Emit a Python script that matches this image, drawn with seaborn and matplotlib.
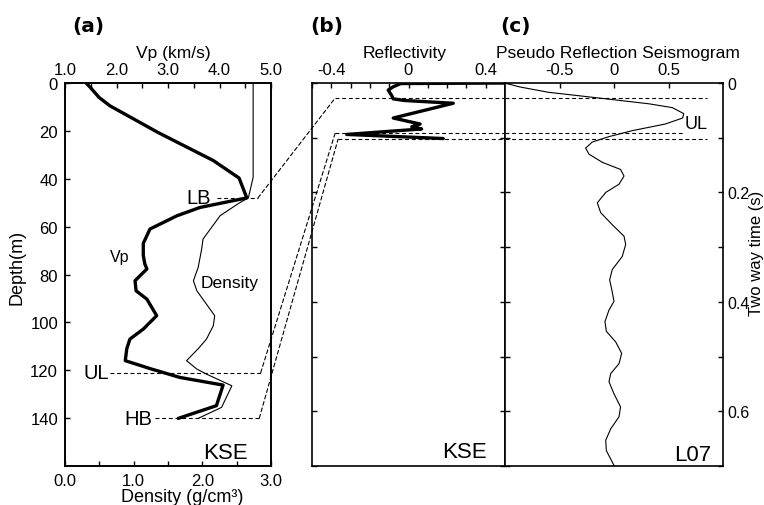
import matplotlib
matplotlib.use("Agg")
import matplotlib.pyplot as plt
import seaborn as sns
import numpy as np
from matplotlib.patches import ConnectionPatch
from matplotlib.ticker import FixedLocator, MultipleLocator, FixedFormatter

# ---------------- data ----------------
# Panel (a): velocity / density profile vs depth (m)
depth_vp = [0, 1.8, 6, 9.5, 20.6, 32.4, 39.7, 48, 52, 55.5, 61, 67, 72, 75.6, 77.7,
            82.6, 86.8, 90.3, 97.2, 102.8, 107, 111, 116, 119.5, 123, 126.2, 134.8, 140.1]
vp = [1.41, 1.49, 1.66, 1.87, 2.80, 3.88, 4.38, 4.53, 3.62, 3.17, 2.65, 2.52, 2.52, 2.55, 2.59,
      2.36, 2.38, 2.59, 2.78, 2.52, 2.26, 2.20, 2.17, 2.68, 3.23, 4.07, 3.94, 3.20]

depth_rho = [0, 39.4, 48, 49.9, 55.4, 65.2, 69.4, 77, 82.6, 86.8, 92.4, 97.2, 101.4,
             107, 111, 116, 119.5, 121.6, 126.5, 135.5, 140.1]
rho = [2.74, 2.74, 2.67, 2.55, 2.26, 2.01, 1.99, 1.94, 1.87, 1.92, 2.06, 2.18, 2.16,
       2.06, 1.94, 1.77, 1.92, 2.06, 2.43, 2.28, 1.94]

# Panel (b): reflectivity vs two-way time (s)
t_refl = [0, 0.001, 0.007, 0.013, 0.023, 0.029, 0.032, 0.037, 0.064, 0.075, 0.080,
          0.084, 0.094, 0.1015]
refl = [0.5, -0.04, -0.08, -0.105, -0.087, -0.079, -0.02, 0.232, -0.079, 0.06, 0.017,
        0.068, -0.32, 0.18]

# Panel (c): pseudo reflection seismogram vs two-way time (s)
t_seis = [0, 0.007, 0.017, 0.024, 0.031, 0.038, 0.045, 0.056, 0.064, 0.075, 0.087, 0.098,
          0.108, 0.119, 0.13, 0.145, 0.158, 0.17, 0.185, 0.2, 0.219, 0.237, 0.259, 0.28,
          0.295, 0.317, 0.341, 0.36, 0.378, 0.399, 0.415, 0.436, 0.454, 0.473, 0.494,
          0.513, 0.531, 0.546, 0.568, 0.592, 0.61, 0.632, 0.653, 0.672, 0.699]
seis = [-1.0, -0.87, -0.60, -0.29, 0.015, 0.32, 0.535, 0.64, 0.63, 0.47, 0.17, -0.046,
        -0.2, -0.26, -0.23, -0.107, 0.06, 0.092, 0.046, -0.076, -0.153, -0.122, -0.016,
        0.092, 0.107, 0.076, -0.016, -0.04, -0.02, 0.0, -0.046, -0.083, -0.07, 0.015,
        0.07, 0.046, -0.03, -0.046, 0.0, 0.06, 0.046, -0.03, -0.076, -0.07, 0.0]

# Horizon markers
marker_names = ["LB", "UL", "HB"]
marker_depth = [48, 121, 140]
marker_time = [0.0275, 0.0917, 0.1028]

# tick values
depth_ticks = [0, 20, 40, 60, 80, 100, 120, 140]
rho_ticks = [0.0, 1.0, 2.0, 3.0]
vp_ticks = [1.0, 2.0, 3.0, 4.0, 5.0]
refl_ticks = [-0.4, 0, 0.4]
refl_ticklabels = ["-0.4", "0", "0.4"]
seis_ticks = [-0.5, 0, 0.5]
seis_ticklabels = ["-0.5", "0", "0.5"]
time_ticks = [0, 0.2, 0.4, 0.6]
time_ticklabels = ["0", "0.2", "0.4", "0.6"]

# ---------------- style ----------------
sns.set_theme(style="ticks")
plt.rcParams["font.family"] = ["Liberation Sans", "DejaVu Sans"]
plt.rcParams["axes.unicode_minus"] = False
plt.rcParams["axes.edgecolor"] = "black"
plt.rcParams["axes.linewidth"] = 1.2
plt.rcParams["xtick.color"] = "black"
plt.rcParams["ytick.color"] = "black"
plt.rcParams["text.color"] = "black"
plt.rcParams["axes.labelcolor"] = "black"

W, H = 764, 506
fig = plt.figure(figsize=(W / 100, H / 100), dpi=100)
fig.patch.set_facecolor("white")

def rect(x0, x1, y0=84, y1=467):
    return [x0 / W, 1 - y1 / H, (x1 - x0) / W, (y1 - y0) / H]

ax_a = fig.add_axes(rect(65, 271))
ax_b = fig.add_axes(rect(312, 505))
ax_c = fig.add_axes(rect(505, 723))
ax_v = ax_a.twiny()

TS = 12
DASH = (0, (3.5, 2.5))
tick_kw = dict(direction="in", length=3.5, width=1.0, colors="black")

# ---------------- panel (a) ----------------
sns.lineplot(x=rho, y=depth_rho, sort=False, estimator=None, color="black",
             linewidth=0.8, ax=ax_a)
sns.lineplot(x=vp, y=depth_vp, sort=False, estimator=None, color="black",
             linewidth=2.4, ax=ax_v)
ax_a.set_xlim(0, 3)
ax_v.set_xlim(1, 5)
ax_a.set_ylim(160, 0)

ax_a.xaxis.set_major_locator(FixedLocator(rho_ticks))
ax_a.xaxis.set_major_formatter(FixedFormatter([f"{v:.1f}" for v in rho_ticks]))
ax_a.xaxis.set_minor_locator(MultipleLocator(0.5))
ax_a.tick_params(axis="x", which="both", top=False, bottom=True, labelsize=TS, pad=5, **tick_kw)
ax_a.yaxis.set_major_locator(FixedLocator(depth_ticks))
ax_a.tick_params(axis="y", which="both", left=True, right=False, labelsize=TS, pad=5, **tick_kw)

ax_v.xaxis.set_major_locator(FixedLocator(vp_ticks))
ax_v.xaxis.set_major_formatter(FixedFormatter([f"{v:.1f}" for v in vp_ticks]))
ax_v.xaxis.set_minor_locator(MultipleLocator(0.5))
ax_v.tick_params(axis="x", which="both", top=True, bottom=False, labelsize=TS, pad=4, **tick_kw)

ax_a.set_xlabel("Density (g/cm³)", fontsize=13)
ax_a.xaxis.set_label_coords(0.57, -0.058)
ax_a.set_ylabel("Depth(m)", fontsize=13)
ax_a.yaxis.set_label_coords(-0.19, 0.522)
ax_v.set_xlabel("Vp (km/s)", fontsize=12.5)
ax_v.xaxis.set_label_coords(0.524, 1.068)
ax_v.set_ylabel("")

# annotations inside (a)
ax_a.text(0.655, 72.5, "Vp", fontsize=11.5, ha="left", va="center")
ax_a.text(1.97, 83.2, "Density", fontsize=12.5, ha="left", va="center")
ax_a.text(0.888, 0.021, "KSE", fontsize=16, ha="right", va="baseline", transform=ax_a.transAxes)

label_rho_x = [2.13, 0.64, 1.27]
hline_a_start = [2.21, 0.66, 1.31]
hline_a_end = [2.81, 2.85, 2.83]
b_start = [-0.38, -0.38, -0.365]
c_end = [0.85, 0.64, 0.85]

for i, name in enumerate(marker_names):
    d = marker_depth[i]
    t = marker_time[i]
    ax_a.text(label_rho_x[i], d, name, fontsize=14.5, ha="right", va="center")
    ax_a.plot([hline_a_start[i], hline_a_end[i]], [d, d], color="black", lw=0.8,
              linestyle=DASH, clip_on=False)
    con = ConnectionPatch(xyA=(hline_a_end[i], d), coordsA=ax_a.transData,
                          xyB=(b_start[i], t), coordsB=ax_b.transData,
                          color="black", lw=0.8, linestyle=DASH)
    fig.add_artist(con)
    ax_b.plot([b_start[i], 0.5], [t, t], color="black", lw=0.8, linestyle=DASH, clip_on=False)
    ax_c.plot([-1.0, c_end[i]], [t, t], color="black", lw=0.8, linestyle=DASH, clip_on=False)

# ---------------- panel (b) ----------------
sns.lineplot(x=refl, y=t_refl, sort=False, estimator=None, color="black",
             linewidth=2.4, ax=ax_b)
ax_b.set_xlim(-0.5, 0.5)
ax_b.set_ylim(0.7, 0)
ax_b.xaxis.tick_top()
ax_b.xaxis.set_major_locator(FixedLocator(refl_ticks))
ax_b.xaxis.set_major_formatter(FixedFormatter(refl_ticklabels))
ax_b.xaxis.set_minor_locator(MultipleLocator(0.1))
ax_b.tick_params(axis="x", which="both", top=True, bottom=False, labelsize=TS, pad=4, **tick_kw)
ax_b.yaxis.set_major_locator(MultipleLocator(0.1))
ax_b.tick_params(axis="y", which="both", left=True, right=True, labelleft=False,
                 labelright=False, **tick_kw)
ax_b.xaxis.set_label_position("top")
ax_b.set_xlabel("Reflectivity", fontsize=12.5)
ax_b.xaxis.set_label_coords(0.482, 1.068)
ax_b.set_ylabel("")
ax_b.text(0.905, 0.023, "KSE", fontsize=16, ha="right", va="baseline", transform=ax_b.transAxes)

# ---------------- panel (c) ----------------
sns.lineplot(x=seis, y=t_seis, sort=False, estimator=None, color="black",
             linewidth=0.8, ax=ax_c)
ax_c.set_xlim(-1, 1)
ax_c.set_ylim(0.7, 0)
ax_c.xaxis.tick_top()
ax_c.xaxis.set_major_locator(FixedLocator(seis_ticks))
ax_c.xaxis.set_major_formatter(FixedFormatter(seis_ticklabels))
ax_c.tick_params(axis="x", which="both", top=True, bottom=False, labelsize=TS, pad=4, **tick_kw)
ax_c.yaxis.set_major_locator(FixedLocator(time_ticks))
ax_c.yaxis.set_major_formatter(FixedFormatter(time_ticklabels))
ax_c.yaxis.set_minor_locator(MultipleLocator(0.1))
ax_c.tick_params(axis="y", which="both", left=True, right=True, labelleft=False,
                 labelright=True, labelsize=11.5, pad=3, **tick_kw)
ax_c.xaxis.set_label_position("top")
ax_c.set_xlabel("Pseudo Reflection Seismogram", fontsize=12.5)
ax_c.xaxis.set_label_coords(0.52, 1.068)
ax_c.yaxis.set_label_position("right")
ax_c.set_ylabel("Two way time (s)", fontsize=12)
ax_c.yaxis.set_label_coords(1.118, 0.559)
ax_c.text(0.65, marker_time[1] - 0.017, "UL", fontsize=13, ha="left", va="center")
ax_c.text(0.944, 0.016, "L07", fontsize=16, ha="right", va="baseline", transform=ax_c.transAxes)

for ax in (ax_a, ax_b, ax_c, ax_v):
    for sp in ax.spines.values():
        sp.set_visible(True)
        sp.set_color("black")
        sp.set_linewidth(1.2)

# panel letters
for x, lab in [(72, "(a)"), (310, "(b)"), (500, "(c)")]:
    fig.text(x / W, 1 - 26.5 / H, lab, fontsize=14.5, fontweight="bold",
             family="DejaVu Sans", ha="left", va="center")

fig.savefig("out.png", dpi=100, facecolor="white")
